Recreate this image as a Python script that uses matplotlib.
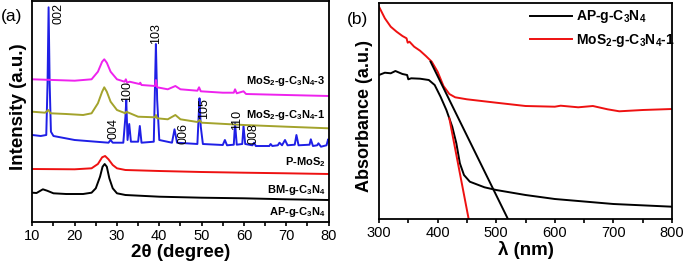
import numpy as np
import matplotlib
matplotlib.use("Agg")
import matplotlib.pyplot as plt

plt.rcParams['font.family'] = ['Liberation Sans', 'DejaVu Sans']
plt.rcParams['mathtext.fontset'] = 'custom'
plt.rcParams['mathtext.rm'] = 'Liberation Sans'
plt.rcParams['mathtext.bf'] = 'Liberation Sans:bold'

# ---------------- panel (a): XRD, offset traces ----------------
ap_x = [10, 11, 12.5, 13.5, 15, 18, 22, 24, 25, 26, 26.6, 27.1, 27.6, 28.2, 29, 30, 32, 40, 50, 60, 70, 80]
ap_y = [29.3, 29, 32.7, 31.3, 28.7, 28, 28, 29.3, 33.7, 45.3, 55.3, 58, 55.3, 43.7, 33.7, 28.7, 27, 25.3, 24.3, 23.7, 22.7, 22]

bm_x = [10, 20, 24, 25.5, 26.5, 27.2, 28, 29, 30, 32, 40, 50, 60, 70, 80]
bm_y = [53, 52.7, 53.7, 58, 64.7, 66, 62.7, 57, 53.7, 52, 51, 50, 49.3, 48.7, 48]

mos2_x = [10, 12, 13.3, 13.6, 13.85, 14.1, 14.4, 15, 20, 25, 28, 28.5, 29, 31.5, 32.0, 32.2, 32.5, 32.9, 33.3,
          35, 35.4, 35.8, 38.7, 39.0, 39.2, 39.5, 40, 43, 43.6, 44.2, 49, 49.3, 49.5, 49.8, 50.3, 55, 55.5, 56,
          57.6, 57.9, 58.3, 59.6, 59.9, 60.3, 62, 62.4, 62.8, 66, 66.3, 66.7, 68, 68.4, 69, 69.7, 70.3, 72, 72.4,
          72.9, 75.5, 75.8, 76.3, 77.3, 77.6, 78.2, 79.5, 79.9, 80]
mos2_y = [87, 86, 87, 138.7, 214.7, 138.7, 90.3, 86, 82, 80.3, 79.3, 82, 79.3, 79.3, 105.3, 122, 82, 98, 80.3,
          80.3, 96, 79.3, 80.3, 138.7, 178, 122, 82, 79.3, 92.7, 79.3, 78, 105.3, 123.7, 95.3, 78, 77, 82, 76.7,
          77.3, 98.7, 77.3, 78, 96, 78, 76.7, 79.3, 76, 76, 78, 76, 76.7, 79.3, 76.7, 82, 76.7, 77.3, 87,
          76.7, 77.3, 82.7, 76, 76.7, 78.7, 75.3, 76.7, 82.7, 80]

c1_x = [10, 13, 13.8, 14.3, 18, 22, 24, 25.5, 26.5, 27.0, 27.6, 28.5, 30, 32, 32.2, 35, 39, 39.2, 39.5, 42,
        43.8, 45, 49, 49.5, 50, 60, 70, 80]
c1_y = [110.3, 109.3, 112, 108.7, 108, 107, 108.7, 118.7, 130.3, 134.7, 130.3, 120.3, 112, 108.7, 110.3, 105.3,
        104.7, 107, 103.7, 102.7, 107, 102.7, 100, 102, 99.3, 97, 95.3, 93.7]

c3_x = [10, 15, 20, 24, 25.5, 26.5, 27.0, 27.6, 28.5, 30, 31.8, 32.1, 32.4, 33, 35.3, 35.5, 35.8, 39, 39.2,
        39.5, 42, 43.8, 45, 49, 49.4, 49.8, 55, 57.6, 57.9, 58.3, 59.9, 60.5, 70, 80]
c3_y = [142.7, 142, 141.3, 142.7, 150.3, 160.3, 162.7, 159.3, 150.3, 142.7, 140.3, 142.7, 139.3, 140.3, 138,
        139.3, 137, 136, 142, 134.7, 132.7, 136, 132.7, 131.3, 134.7, 130.7, 129.3, 129.3, 132.7, 128.7,
        130.7, 128, 127, 126]

peak_labels = ['002', '103', '100', '004', '006', '105', '110', '008']
peak_x = [16.3, 39.2, 32.4, 29.2, 45.7, 50.6, 58.3, 62.3]
peak_top = [219, 199, 141, 104, 99, 124, 112, 99]

sample_labels = [r'MoS$_\mathbf{2}$-g-C$_\mathbf{3}$N$_\mathbf{4}$-3',
                 r'MoS$_\mathbf{2}$-g-C$_\mathbf{3}$N$_\mathbf{4}$-1',
                 r'P-MoS$_\mathbf{2}$',
                 r'BM-g-C$_\mathbf{3}$N$_\mathbf{4}$',
                 r'AP-g-C$_\mathbf{3}$N$_\mathbf{4}$']
sample_label_y = [141, 107, 60, 32, 10]

# ---------------- panel (b): UV-vis ----------------
red_x = [300, 310, 320, 330, 340, 347, 349, 352, 360, 370, 380, 390, 400, 410, 420, 430, 450, 500, 550, 600,
         610, 640, 665, 690, 710, 750, 800]
red_y = [212.3, 200.7, 192.3, 187.3, 183, 180.7, 176.3, 177.3, 172.3, 168.3, 163, 157.3, 147.3, 133, 125, 121.7,
         119.7, 116.3, 113, 112.3, 113.3, 111.7, 113, 109.7, 107.7, 109, 110]

blk_x = [300, 310, 320, 328, 340, 348, 350, 355, 370, 385, 395, 405, 415, 425, 432, 438, 445, 455, 480, 500,
         550, 600, 700, 800]
blk_y = [144, 146.3, 145.7, 148, 145, 144, 139.7, 140.7, 140.3, 139, 134, 122.3, 109, 92.3, 75.7, 55.7, 44,
         37.3, 31.7, 29, 24, 20, 15, 12.3]

tan_blk_x = [388, 520]
tan_blk_y = [157.3, 0]
tan_red_x = [420, 453]
tan_red_y = [100.7, 0]

fig = plt.figure(figsize=(6.85, 2.65), dpi=100)
ax1 = fig.add_axes([32.3 / 685, 43 / 265, 296.3 / 685, 221 / 265])
ax2 = fig.add_axes([379 / 685, 46 / 265, 293 / 685, 216 / 265])

lw = 1.4
ax1.plot(ap_x, ap_y, color='black', lw=lw)
ax1.plot(bm_x, bm_y, color='#ee1111', lw=lw)
ax1.plot(mos2_x, mos2_y, color='#1f1fe6', lw=lw)
ax1.plot(c1_x, c1_y, color='#a3a32c', lw=lw)
ax1.plot(c3_x, c3_y, color='#ee22ee', lw=lw)

for lab, x, y in zip(peak_labels, peak_x, peak_top):
    ax1.text(x, y, lab, rotation=90, ha='center', va='top', fontsize=9)
for lab, y in zip(sample_labels, sample_label_y):
    ax1.text(79.3, y, lab, ha='right', va='center', fontsize=8, fontweight='bold')

ax1.set_xlim(10, 80)
ax1.set_ylim(0, 221)
ax1.set_xticks(np.arange(10, 81, 10))
ax1.set_xticks(np.arange(15, 80, 10), minor=True)
ax1.set_xlabel('2θ (degree)', fontsize=13.5, fontweight='bold', labelpad=1)
ax1.set_ylabel('Intensity (a.u.)', fontsize=13.5, fontweight='bold')
ax1.yaxis.set_label_coords(-0.017, 0.52)

ax2.plot(blk_x, blk_y, color='black', lw=lw, label=r'AP-g-C$_\mathbf{3}$N$_\mathbf{4}$')
ax2.plot(red_x, red_y, color='#ee1111', lw=lw, label=r'MoS$_\mathbf{2}$-g-C$_\mathbf{3}$N$_\mathbf{4}$-1')
ax2.plot(tan_blk_x, tan_blk_y, color='black', lw=lw)
ax2.plot(tan_red_x, tan_red_y, color='#ee1111', lw=lw)
ax2.set_xlim(300, 800)
ax2.set_ylim(0, 216)
ax2.set_xticks(np.arange(300, 801, 100))
ax2.set_xticks(np.arange(350, 800, 100), minor=True)
ax2.set_xlabel('λ (nm)', fontsize=13.5, fontweight='bold', labelpad=1)
ax2.set_ylabel('Absorbance (a.u.)', fontsize=13, fontweight='bold')
ax2.yaxis.set_label_coords(-0.02, 0.477)
ax2.legend(loc='upper left', bbox_to_anchor=(0.515, 0.975), frameon=False, borderpad=0, borderaxespad=0,
           handlelength=3.0, handletextpad=0.3, labelspacing=0.45,
           prop={'size': 10, 'weight': 'bold'})

for ax in (ax1, ax2):
    ax.set_yticks([])
    for s in ax.spines.values():
        s.set_linewidth(1.3)
    ax.tick_params(axis='x', which='major', direction='out', length=3, width=1.2, labelsize=10.5, pad=2)
    ax.tick_params(axis='x', which='minor', direction='out', length=3, width=1.2)

fig.text(1 / 685, 1 - 17 / 265, '(a)', fontsize=12.5, va='center', ha='left')
fig.text(347 / 685, 1 - 19.5 / 265, '(b)', fontsize=12.5, va='center', ha='left')

fig.savefig('out.png', dpi=100)
